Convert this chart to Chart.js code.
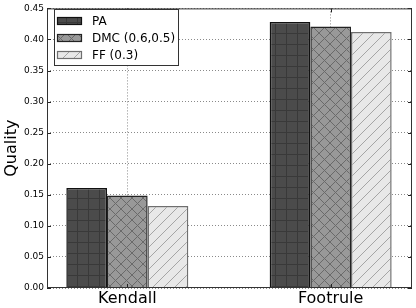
<!DOCTYPE html>
<html>
<head>
<meta charset="utf-8">
<script src="https://cdn.jsdelivr.net/npm/chart.js@4.4.1/dist/chart.umd.min.js"></script>
<style>
  body { margin: 0; background: #fff; }
  #wrap { width: 416px; height: 308px; }
</style>
</head>
<body>
<div id="wrap"><canvas id="qualityChart" width="416" height="308"></canvas></div>
<script>
// categories and series
var categories = ["Kendall", "Footrule"];
var seriesNames = ["PA", "DMC (0.6,0.5)", "FF (0.3)"];
var paValues = [0.161, 0.428];
var dmcValues = [0.149, 0.421];
var ffValues = [0.132, 0.412];
var yTicks = [0, 0.05, 0.1, 0.15, 0.2, 0.25, 0.3, 0.35, 0.4, 0.45];

// hatch patterns like matplotlib's '+', 'x' and '//'
function hatch(fill, line, kind) {
    var size = 11;
    var c = document.createElement("canvas");
    c.width = size;
    c.height = size;
    var g = c.getContext("2d");
    g.fillStyle = fill;
    g.fillRect(0, 0, size, size);
    g.strokeStyle = line;
    g.lineWidth = 1;
    g.beginPath();
    if (kind == "+") {
        g.moveTo(0.5, 0); g.lineTo(0.5, size);
        g.moveTo(0, 0.5); g.lineTo(size, 0.5);
    } else if (kind == "x") {
        g.moveTo(0, 0); g.lineTo(size, size);
        g.moveTo(size, 0); g.lineTo(0, size);
    } else {
        g.moveTo(0, size); g.lineTo(size, 0);
        g.moveTo(-size / 2, size / 2); g.lineTo(size / 2, -size / 2);
        g.moveTo(size / 2, size + size / 2); g.lineTo(size + size / 2, size / 2);
    }
    g.stroke();
    return g.createPattern(c, "repeat");
}

var ctx = document.getElementById("qualityChart").getContext("2d");

var fills = [
    hatch("#4b4b4b", "#393939", "+"),
    hatch("#999999", "#6a6a6a", "x"),
    hatch("#e8e8e8", "#a5a5a5", "/")
];
var borders = ["#111111", "#222222", "#6f6f6f"];

function points(values) {
    return values.map(function (v, i) {
        return { x: i, y: v };
    });
}

// legend box, frame and inward ticks drawn on top like matplotlib
var extras = {
    id: "extras",
    afterDraw: function (chart) {
        var c = chart.ctx;
        var a = chart.chartArea;
        var xs = chart.scales.x;
        var ys = chart.scales.y;
        c.save();
        c.strokeStyle = "#222";
        c.lineWidth = 1;
        c.beginPath();
        yTicks.forEach(function (t) {
            var py = Math.round(ys.getPixelForValue(t)) + 0.5;
            c.moveTo(a.left, py); c.lineTo(a.left + 4, py);
            c.moveTo(a.right, py); c.lineTo(a.right - 4, py);
        });
        categories.forEach(function (cat, i) {
            var px = Math.round(xs.getPixelForValue(i)) + 0.5;
            c.moveTo(px, a.top); c.lineTo(px, a.top + 4);
            c.moveTo(px, a.bottom); c.lineTo(px, a.bottom - 4);
        });
        c.stroke();
        c.strokeStyle = "#333";
        c.strokeRect(a.left + 0.5, a.top + 0.5, a.right - a.left - 1, a.bottom - a.top - 1);

        // legend
        var lx = 54, ly = 9, lw = 124, lh = 56;
        c.fillStyle = "#fff";
        c.fillRect(lx, ly, lw, lh);
        c.strokeStyle = "#333";
        c.strokeRect(lx + 0.5, ly + 0.5, lw, lh);
        c.font = "12px 'DejaVu Sans'";
        c.textBaseline = "middle";
        seriesNames.forEach(function (name, i) {
            var ry = 21 + i * 17;
            c.fillStyle = fills[i];
            c.fillRect(57, ry - 4, 25, 8);
            c.strokeStyle = borders[i];
            c.lineWidth = 1.2;
            c.strokeRect(57.5, ry - 3.5, 24, 7);
            c.fillStyle = "#000";
            c.fillText(name, 92, ry + 1);
        });
        c.restore();
    }
};

var gridStyle = { color: "#8a8a8a", lineWidth: 1, drawTicks: false, offset: false };
var borderStyle = { display: false, dash: [1, 2] };

var chart = new Chart(ctx, {
    type: "bar",
    data: {
        datasets: [
            { label: seriesNames[0], data: points(paValues), backgroundColor: fills[0], borderColor: borders[0], borderWidth: 1.5 },
            { label: seriesNames[1], data: points(dmcValues), backgroundColor: fills[1], borderColor: borders[1], borderWidth: 1.5 },
            { label: seriesNames[2], data: points(ffValues), backgroundColor: fills[2], borderColor: borders[2], borderWidth: 1.5 }
        ]
    },
    options: {
        responsive: false,
        animation: false,
        categoryPercentage: 0.6,
        barPercentage: 1,
        layout: { padding: { top: 5, right: 4, left: 0, bottom: 0 } },
        plugins: {
            legend: { display: false },
            tooltip: { enabled: false }
        },
        scales: {
            x: {
                type: "linear",
                offset: false,
                min: -0.395,
                max: 1.4,
                z: 1,
                afterBuildTicks: function (scale) {
                    scale.ticks = categories.map(function (c, i) { return { value: i }; });
                },
                afterFit: function (scale) { scale.height = 20; },
                ticks: {
                    color: "#000",
                    padding: 1,
                    font: { family: "DejaVu Sans", size: 16 },
                    callback: function (v) { return categories[v]; }
                },
                grid: gridStyle,
                border: borderStyle
            },
            y: {
                min: 0,
                max: 0.45,
                z: 1,
                afterBuildTicks: function (scale) {
                    scale.ticks = yTicks.map(function (t) { return { value: t }; });
                },
                afterFit: function (scale) { scale.width = 47; },
                ticks: {
                    color: "#000",
                    padding: 3,
                    font: { family: "DejaVu Sans", size: 9 },
                    callback: function (v) { return v.toFixed(2); }
                },
                grid: gridStyle,
                border: borderStyle,
                title: {
                    display: true,
                    text: "Quality",
                    color: "#000",
                    padding: { top: 2, bottom: 0 },
                    font: { family: "DejaVu Sans", size: 16 }
                }
            }
        }
    },
    plugins: [extras]
});
</script>
</body>
</html>
